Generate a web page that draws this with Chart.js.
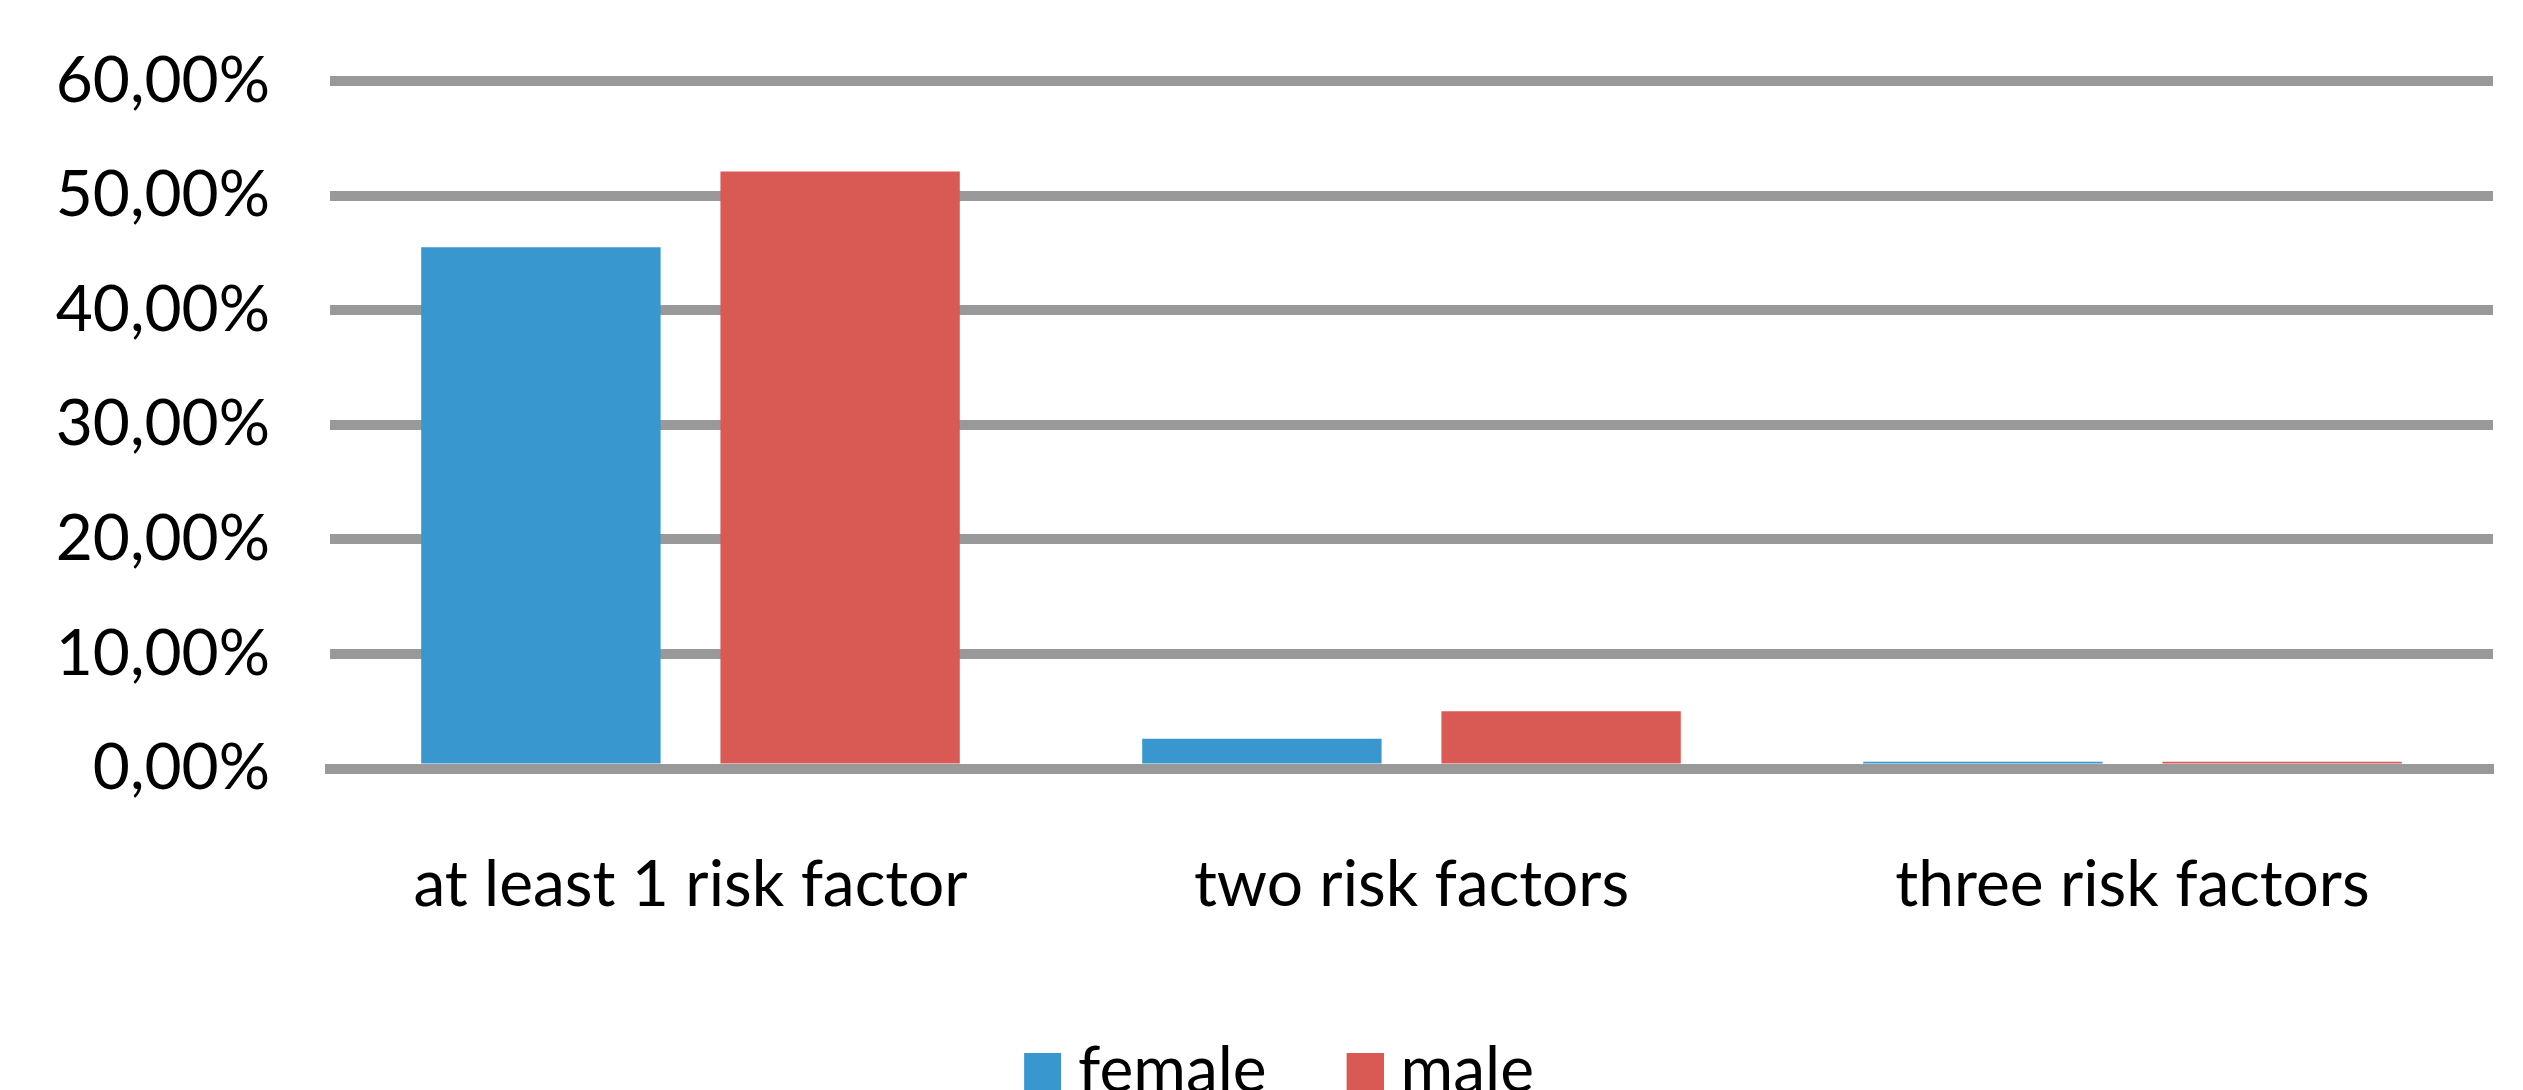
<!DOCTYPE html>
<html>
<head>
<meta charset="utf-8">
<script src="https://cdn.jsdelivr.net/npm/chart.js@4/dist/chart.umd.min.js"></script>
<style>
  html, body { margin: 0; padding: 0; background: #ffffff; overflow: hidden; }
  canvas { display: block; }
</style>
</head>
<body>
<canvas id="chart" width="2523" height="1113"></canvas>
<script>
// Share of people with cardiovascular risk factors, by sex (%)
const categories = ['at least 1 risk factor', 'two risk factors', 'three risk factors'];
const femaleValues = [45.5, 2.6, 0.6];
const maleValues = [52.1, 5.0, 0.6];
const seriesNames = ['female', 'male'];
const yTickLabels = ['0,00%', '10,00%', '20,00%', '30,00%', '40,00%', '50,00%', '60,00%'];

const BLUE = '#3797CE';
const RED = '#D95A54';
const GRID = '#999999';

const MARK_SIZE = 37;   // legend square side
const MARK_SHIFT = 15;  // pulls the square closer to its label

// Legend marker: a square drawn at the right end of a wider transparent canvas,
// so it sits nearer the text than Chart.js' default box/text gap.
function makeMark(color) {
  const c = document.createElement('canvas');
  c.width = MARK_SIZE + 2 * MARK_SHIFT;
  c.height = MARK_SIZE;
  const g = c.getContext('2d');
  g.fillStyle = color;
  g.fillRect(2 * MARK_SHIFT, 0, MARK_SIZE, MARK_SIZE);
  return c;
}

function draw() {
  Chart.defaults.font.family = 'Lato, "Open Sans", sans-serif';
  Chart.defaults.font.size = 64;
  Chart.defaults.color = '#000000';

  const marks = [makeMark(BLUE), makeMark(RED)];

  new Chart(document.getElementById('chart'), {
    type: 'bar',
    data: {
      labels: categories,
      datasets: [
        { label: seriesNames[0], data: femaleValues, backgroundColor: BLUE, borderWidth: 0 },
        { label: seriesNames[1], data: maleValues, backgroundColor: RED, borderWidth: 0 }
      ]
    },
    options: {
      responsive: false,
      animation: false,
      devicePixelRatio: 1,
      layout: { padding: { top: 81, left: 50, right: 30, bottom: 0 } },
      datasets: {
        bar: { categoryPercentage: 0.83, barPercentage: 0.8 }
      },
      scales: {
        x: {
          grid: { display: false },
          border: { display: true, color: GRID, width: 10, z: 1 },
          ticks: { padding: 70, font: { size: 64 } },
          afterFit: (scale) => {
            scale.height = 205.5;
            scale.paddingLeft = 0;
            scale.paddingRight = 0;
          }
        },
        y: {
          min: 0,
          max: 60,
          ticks: {
            stepSize: 10,
            padding: 60,
            font: { size: 64 },
            callback: (value) => yTickLabels[Math.round(value / 10)]
          },
          grid: { color: GRID, lineWidth: 10, drawTicks: false },
          border: { display: false },
          afterFit: (scale) => {
            scale.width = 280;
            scale.paddingTop = 0;
            scale.paddingBottom = 0;
          }
        }
      },
      plugins: {
        legend: {
          position: 'bottom',
          labels: {
            usePointStyle: true,
            boxWidth: MARK_SIZE,
            boxHeight: MARK_SIZE,
            padding: 65,
            font: { size: 64 },
            color: '#000000',
            generateLabels: (chart) =>
              Chart.defaults.plugins.legend.labels.generateLabels(chart)
                .map((item, i) => Object.assign(item, { pointStyle: marks[i] }))
          }
        },
        tooltip: { enabled: false }
      }
    }
  });
}

if (document.fonts && document.fonts.load) {
  document.fonts.load('64px Lato').then(draw, draw);
} else {
  draw();
}
</script>
</body>
</html>
